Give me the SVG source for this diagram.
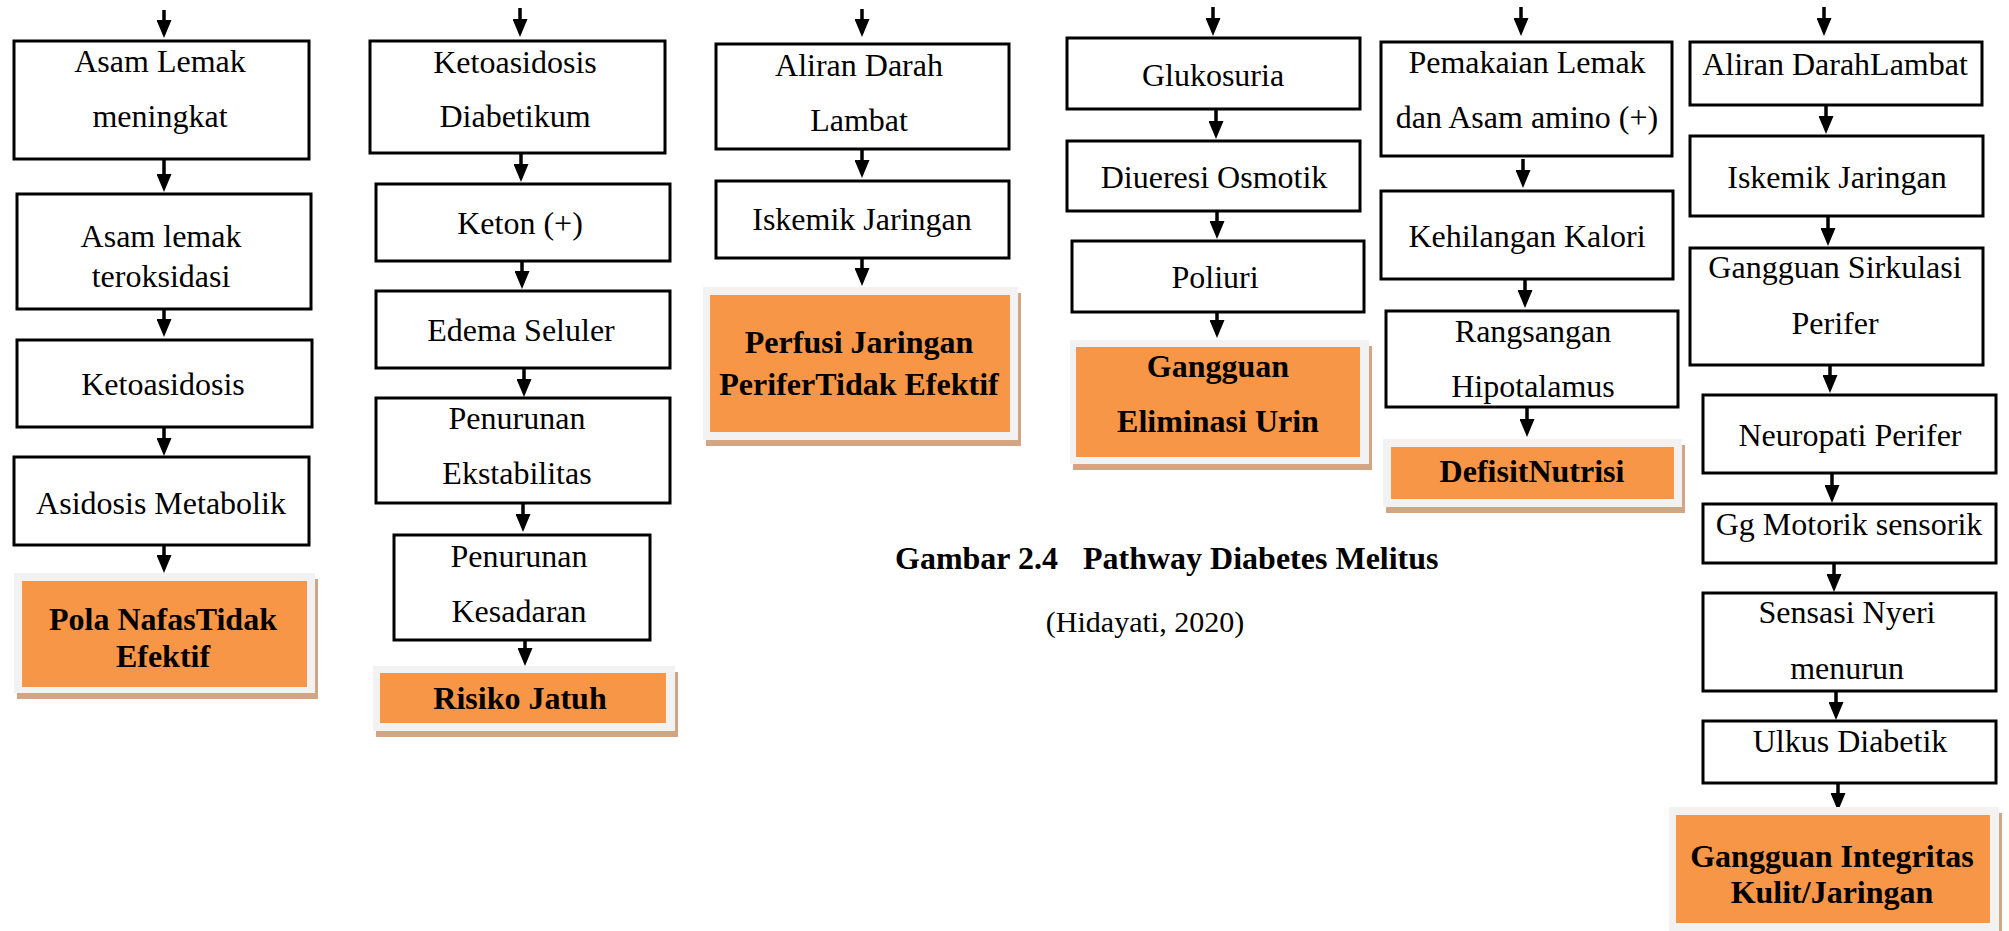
<svg xmlns="http://www.w3.org/2000/svg" width="2009" height="931" viewBox="0 0 2009 931">
  <defs>
    <style>
      .box { fill: #ffffff; stroke: #000000; stroke-width: 3; }
      .halo { fill: #f2f2f2; }
      .shade { fill: #d4a585; }
      .dx { fill: #f79646; }
      .t { font-family: "Liberation Serif", "Times New Roman", serif; font-size: 32px; fill: #000000; text-anchor: middle; }
      .b { font-weight: bold; }
      .arrow { stroke: #000000; stroke-width: 3.5; fill: none; marker-end: url(#ah); }
    </style>
    <marker id="ah" markerUnits="userSpaceOnUse" markerWidth="18" markerHeight="15" viewBox="0 0 18 15" refX="2" refY="7.5" orient="auto">
      <path d="M0,0 L18,7.5 L0,15 z" fill="#000000"/>
    </marker>
  </defs>

  <rect width="2009" height="931" fill="#ffffff"/>

  <!-- connectors: each line stops 16px short, the marker tip reaches the next box -->
  <g id="connectors">
    <!-- column 1 -->
    <line class="arrow" x1="164" y1="10" x2="164" y2="22"/>
    <line class="arrow" x1="164" y1="160" x2="164" y2="176"/>
    <line class="arrow" x1="164" y1="310" x2="164" y2="321"/>
    <line class="arrow" x1="164" y1="428" x2="164" y2="440"/>
    <line class="arrow" x1="164" y1="546" x2="164" y2="557"/>
    <!-- column 2 -->
    <line class="arrow" x1="520" y1="8" x2="520" y2="21"/>
    <line class="arrow" x1="521" y1="154" x2="521" y2="166"/>
    <line class="arrow" x1="522" y1="262" x2="522" y2="273"/>
    <line class="arrow" x1="524" y1="369" x2="524" y2="381"/>
    <line class="arrow" x1="523" y1="504" x2="523" y2="516"/>
    <line class="arrow" x1="525" y1="641" x2="525" y2="650"/>
    <!-- column 3 -->
    <line class="arrow" x1="862" y1="9" x2="862" y2="21"/>
    <line class="arrow" x1="862" y1="150" x2="862" y2="162"/>
    <line class="arrow" x1="862" y1="259" x2="862" y2="270"/>
    <!-- column 4 -->
    <line class="arrow" x1="1213" y1="7" x2="1213" y2="20"/>
    <line class="arrow" x1="1216" y1="110" x2="1216" y2="123"/>
    <line class="arrow" x1="1217" y1="212" x2="1217" y2="223"/>
    <line class="arrow" x1="1217" y1="309" x2="1217" y2="322"/>
    <!-- column 5 -->
    <line class="arrow" x1="1521" y1="7" x2="1521" y2="20"/>
    <line class="arrow" x1="1523" y1="159" x2="1523" y2="172"/>
    <line class="arrow" x1="1525" y1="280" x2="1525" y2="292"/>
    <line class="arrow" x1="1527" y1="408" x2="1527" y2="421"/>
    <!-- column 6 -->
    <line class="arrow" x1="1824" y1="7" x2="1824" y2="20"/>
    <line class="arrow" x1="1826" y1="106" x2="1826" y2="118"/>
    <line class="arrow" x1="1828" y1="217" x2="1828" y2="230"/>
    <line class="arrow" x1="1830" y1="366" x2="1830" y2="377"/>
    <line class="arrow" x1="1832" y1="474" x2="1832" y2="487"/>
    <line class="arrow" x1="1834" y1="564" x2="1834" y2="576"/>
    <line class="arrow" x1="1836" y1="692" x2="1836" y2="704"/>
    <line class="arrow" x1="1838" y1="784" x2="1838" y2="795"/>
  </g>

  <!-- column 1 -->
  <g id="asam-lemak-meningkat">
    <rect class="box" x="14" y="41" width="295" height="118"/>
    <text class="t" x="160" y="72">Asam Lemak</text>
    <text class="t" x="160" y="127">meningkat</text>
  </g>
  <g id="asam-lemak-teroksidasi">
    <rect class="box" x="17" y="194" width="294" height="115"/>
    <text class="t" x="161" y="247">Asam lemak</text>
    <text class="t" x="161" y="287">teroksidasi</text>
  </g>
  <g id="ketoasidosis">
    <rect class="box" x="17" y="340" width="295" height="87"/>
    <text class="t" x="163" y="395">Ketoasidosis</text>
  </g>
  <g id="asidosis-metabolik">
    <rect class="box" x="14" y="457" width="295" height="88"/>
    <text class="t" x="161" y="514">Asidosis Metabolik</text>
  </g>
  <g id="pola-nafas">
    <rect class="shade" x="17" y="579" width="301" height="120"/>
    <rect class="halo" x="14" y="573" width="301" height="120"/>
    <rect class="dx" x="22" y="581" width="285" height="106"/>
    <text class="t b" x="163" y="630">Pola NafasTidak</text>
    <text class="t b" x="163" y="667">Efektif</text>
  </g>

  <!-- column 2 -->
  <g id="ketoasidosis-diabetikum">
    <rect class="box" x="370" y="41" width="295" height="112"/>
    <text class="t" x="515" y="73">Ketoasidosis</text>
    <text class="t" x="515" y="127">Diabetikum</text>
  </g>
  <g id="keton">
    <rect class="box" x="376" y="184" width="294" height="77"/>
    <text class="t" x="520" y="234">Keton (+)</text>
  </g>
  <g id="edema-seluler">
    <rect class="box" x="376" y="291" width="294" height="77"/>
    <text class="t" x="521" y="341">Edema Seluler</text>
  </g>
  <g id="penurunan-ekstabilitas">
    <rect class="box" x="376" y="398" width="294" height="105"/>
    <text class="t" x="517" y="429">Penurunan</text>
    <text class="t" x="517" y="484">Ekstabilitas</text>
  </g>
  <g id="penurunan-kesadaran">
    <rect class="box" x="394" y="535" width="256" height="105"/>
    <text class="t" x="519" y="567">Penurunan</text>
    <text class="t" x="519" y="622">Kesadaran</text>
  </g>
  <g id="risiko-jatuh">
    <rect class="shade" x="376" y="672" width="302" height="65"/>
    <rect class="halo" x="373" y="666" width="302" height="65"/>
    <rect class="dx" x="380" y="673" width="286" height="50"/>
    <text class="t b" x="520" y="709">Risiko Jatuh</text>
  </g>

  <!-- column 3 -->
  <g id="aliran-darah-lambat">
    <rect class="box" x="716" y="44" width="293" height="105"/>
    <text class="t" x="859" y="76">Aliran Darah</text>
    <text class="t" x="859" y="131">Lambat</text>
  </g>
  <g id="iskemik-jaringan">
    <rect class="box" x="716" y="181" width="293" height="77"/>
    <text class="t" x="862" y="230">Iskemik Jaringan</text>
  </g>
  <g id="perfusi-jaringan">
    <rect class="shade" x="706" y="293" width="315" height="153"/>
    <rect class="halo" x="703" y="287" width="315" height="153"/>
    <rect class="dx" x="710" y="295" width="300" height="137"/>
    <text class="t b" x="859" y="353">Perfusi Jaringan</text>
    <text class="t b" x="859" y="395">PeriferTidak Efektif</text>
  </g>

  <!-- column 4 -->
  <g id="glukosuria">
    <rect class="box" x="1067" y="38" width="293" height="71"/>
    <text class="t" x="1213" y="86">Glukosuria</text>
  </g>
  <g id="diueresi-osmotik">
    <rect class="box" x="1067" y="141" width="293" height="70"/>
    <text class="t" x="1214" y="188">Diueresi Osmotik</text>
  </g>
  <g id="poliuri">
    <rect class="box" x="1072" y="241" width="292" height="71"/>
    <text class="t" x="1215" y="288">Poliuri</text>
  </g>
  <g id="eliminasi-urin">
    <rect class="shade" x="1073" y="346" width="299" height="124"/>
    <rect class="halo" x="1070" y="340" width="299" height="124"/>
    <rect class="dx" x="1076" y="347" width="284" height="110"/>
    <text class="t b" x="1218" y="377">Gangguan</text>
    <text class="t b" x="1218" y="432">Eliminasi Urin</text>
  </g>

  <!-- column 5 -->
  <g id="pemakaian-lemak">
    <rect class="box" x="1381" y="42" width="291" height="114"/>
    <text class="t" x="1527" y="73">Pemakaian Lemak</text>
    <text class="t" x="1527" y="128">dan Asam amino (+)</text>
  </g>
  <g id="kehilangan-kalori">
    <rect class="box" x="1381" y="191" width="292" height="88"/>
    <text class="t" x="1527" y="247">Kehilangan Kalori</text>
  </g>
  <g id="rangsangan-hipotalamus">
    <rect class="box" x="1386" y="311" width="292" height="96"/>
    <text class="t" x="1533" y="342">Rangsangan</text>
    <text class="t" x="1533" y="397">Hipotalamus</text>
  </g>
  <g id="defisit-nutrisi">
    <rect class="shade" x="1386" y="445" width="299" height="68"/>
    <rect class="halo" x="1383" y="439" width="299" height="68"/>
    <rect class="dx" x="1391" y="447" width="283" height="52"/>
    <text class="t b" x="1532" y="482">DefisitNutrisi</text>
  </g>

  <!-- column 6 -->
  <g id="aliran-darah-lambat-2">
    <rect class="box" x="1690" y="42" width="292" height="63"/>
    <text class="t" x="1835" y="75">Aliran DarahLambat</text>
  </g>
  <g id="iskemik-jaringan-2">
    <rect class="box" x="1690" y="136" width="293" height="80"/>
    <text class="t" x="1837" y="188">Iskemik Jaringan</text>
  </g>
  <g id="gangguan-sirkulasi">
    <rect class="box" x="1690" y="248" width="293" height="117"/>
    <text class="t" x="1835" y="278">Gangguan Sirkulasi</text>
    <text class="t" x="1835" y="334">Perifer</text>
  </g>
  <g id="neuropati-perifer">
    <rect class="box" x="1703" y="395" width="293" height="78"/>
    <text class="t" x="1850" y="446">Neuropati Perifer</text>
  </g>
  <g id="gg-motorik">
    <rect class="box" x="1703" y="504" width="293" height="59"/>
    <text class="t" x="1849" y="535">Gg Motorik sensorik</text>
  </g>
  <g id="sensasi-nyeri">
    <rect class="box" x="1703" y="593" width="293" height="98"/>
    <text class="t" x="1847" y="623">Sensasi Nyeri</text>
    <text class="t" x="1847" y="679">menurun</text>
  </g>
  <g id="ulkus-diabetik">
    <rect class="box" x="1703" y="721" width="293" height="62"/>
    <text class="t" x="1850" y="752">Ulkus Diabetik</text>
  </g>
  <g id="integritas-kulit">
    <rect class="shade" x="1672" y="813" width="330" height="130"/>
    <rect class="halo" x="1669" y="807" width="330" height="130"/>
    <rect class="dx" x="1676" y="815" width="314" height="108"/>
    <text class="t b" x="1832" y="867">Gangguan Integritas</text>
    <text class="t b" x="1832" y="903">Kulit/Jaringan</text>
  </g>

  <!-- figure caption -->
  <g id="caption">
    <text class="t b" x="895" y="569" style="text-anchor:start">Gambar 2.4</text>
    <text class="t b" x="1083" y="569" style="text-anchor:start">Pathway Diabetes Melitus</text>
    <text class="t" x="1145" y="632" style="font-size:30px">(Hidayati, 2020)</text>
  </g>
</svg>
